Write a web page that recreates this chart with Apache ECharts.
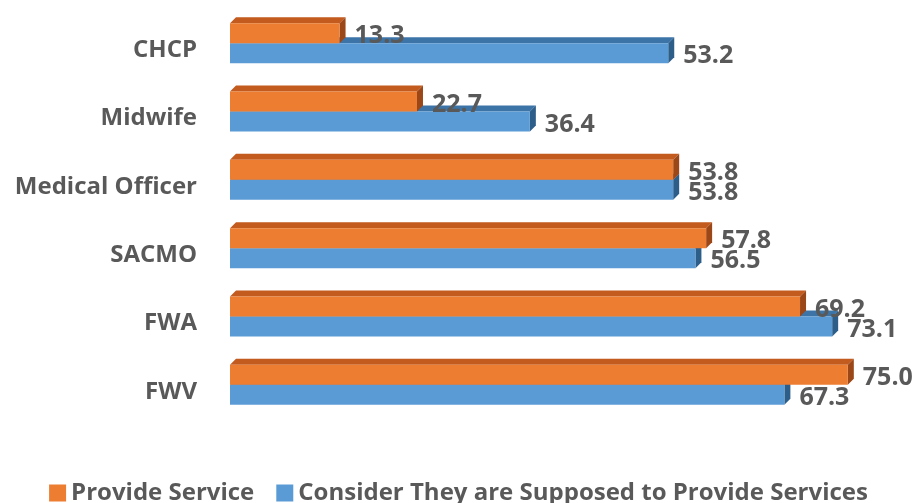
<!DOCTYPE html>
<html>
<head>
<meta charset="utf-8">
<script src="https://cdn.jsdelivr.net/npm/echarts@6/dist/echarts.min.js"></script>
<style>
  html, body { margin: 0; padding: 0; background: #fff; }
  #chart { width: 917px; height: 503px; }
</style>
</head>
<body>
<div id="chart"></div>
<script>
const categories = ['CHCP', 'Midwife', 'Medical Officer', 'SACMO', 'FWA', 'FWV']
const provideService = [13.3, 22.7, 53.8, 57.8, 69.2, 75.0]
const supposedToProvide = [53.2, 36.4, 53.8, 56.5, 73.1, 67.3]
const seriesNames = ['Provide Service', 'Consider They are Supposed to Provide Services']

const textColor = '#595959'
const font = '"Open Sans", sans-serif'

// front / top / side colours of each 3d bar
const palette = [
  { front: '#ED7D31', top: '#C35A1E', side: '#9C4718' },
  { front: '#5B9BD5', top: '#3C74A8', side: '#2D5E8A' }
]

const barH = 20
const depth = 6

const makeRender = (idx) => (params, api) => {
  const cat = api.value(0)
  const val = api.value(1)
  const p0 = api.coord([0, cat])
  const p1 = api.coord([val, cat])
  const yc = p0[1] - 7
  const yt = idx === 0 ? yc - barH : yc
  const yb = yt + barH
  const x0 = p0[0]
  const x1 = p1[0]
  const c = palette[idx]
  return {
    type: 'group',
    children: [
      {
        type: 'polygon',
        shape: { points: [[x0, yt], [x1, yt], [x1 + depth, yt - depth], [x0 + depth, yt - depth]] },
        style: { fill: c.top }
      },
      {
        type: 'polygon',
        shape: { points: [[x1, yt], [x1 + depth, yt - depth], [x1 + depth, yb - depth], [x1, yb]] },
        style: { fill: c.side }
      },
      {
        type: 'rect',
        shape: { x: x0, y: yt, width: x1 - x0, height: barH },
        style: { fill: c.front }
      },
      {
        type: 'text',
        z2: 10,
        style: {
          text: val.toFixed(1),
          x: x1 + 15,
          y: yt + barH / 2 + 3,
          verticalAlign: 'middle',
          fill: textColor,
          font: 'bold 25px ' + font
        }
      }
    ]
  }
}

const chart = echarts.init(document.getElementById('chart'))
chart.setOption({
  animation: false,
  grid: { left: 230, top: 16, width: 659, height: 410 },
  xAxis: { type: 'value', min: 0, max: 80, show: false },
  yAxis: {
    type: 'category',
    data: categories,
    inverse: true,
    axisLine: { show: false },
    axisTick: { show: false },
    axisLabel: { margin: 33, color: textColor, fontWeight: 'bold', fontSize: 24, fontFamily: font }
  },
  legend: {
    top: 476,
    left: 'center',
    icon: 'rect',
    itemWidth: 17,
    itemHeight: 17,
    itemGap: 22,
    textStyle: { color: textColor, fontWeight: 'bold', fontSize: 24, fontFamily: font },
    data: seriesNames
  },
  series: [
    {
      name: seriesNames[0],
      type: 'custom',
      z: 3,
      itemStyle: { color: palette[0].front },
      encode: { x: 1, y: 0 },
      data: provideService.map((v, i) => [i, v]),
      renderItem: makeRender(0)
    },
    {
      name: seriesNames[1],
      type: 'custom',
      z: 2,
      itemStyle: { color: palette[1].front },
      encode: { x: 1, y: 0 },
      data: supposedToProvide.map((v, i) => [i, v]),
      renderItem: makeRender(1)
    }
  ]
})
</script>
</body>
</html>
